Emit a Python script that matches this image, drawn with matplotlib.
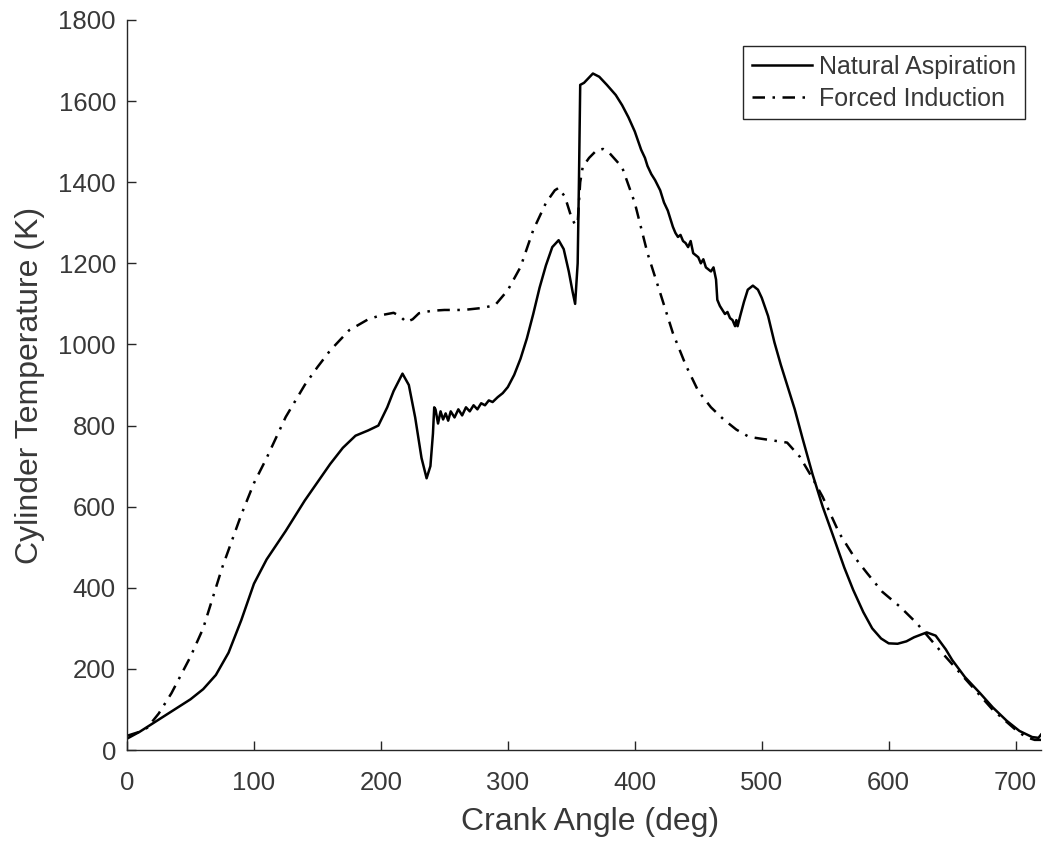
import numpy as np
import matplotlib.pyplot as plt

# crank angle / temperature
na_angle = [0, 10, 20, 30, 40, 50, 60, 70, 80, 90, 100, 110, 125, 140, 150, 160, 170, 180, 190, 198,
            205, 210, 217, 222, 227, 232, 236, 239, 241, 242, 243, 245, 247, 249, 251, 253, 255, 258,
            261, 264, 267, 270, 273, 276, 279, 282, 285, 288, 292, 296, 300, 305, 310, 315, 320, 325,
            330, 335, 340, 344, 348, 351, 353, 355, 356, 357, 360, 363, 367, 372, 378, 385, 390, 395,
            400, 405, 408, 410, 413, 416, 420, 423, 426, 428, 430, 432, 434, 436, 438, 440, 442, 444,
            446, 448, 450, 452, 454, 456, 458, 460, 462, 464, 465, 467, 469, 471, 473, 475, 477, 479,
            480, 481, 483, 486, 489, 493, 497, 500, 505, 510, 515, 520, 526, 532, 540, 548, 556, 565,
            572, 580, 587, 594, 600, 607, 614, 620, 630, 637, 645, 650, 660, 672, 682, 693, 703, 713,
            718, 720]
na_temp = [28, 45, 65, 85, 105, 125, 150, 185, 240, 320, 410, 470, 540, 615, 660, 705, 745, 775, 788, 800,
           845, 885, 928, 900, 820, 720, 670, 700, 780, 845, 840, 805, 835, 815, 830, 812, 835, 820,
           840, 825, 845, 835, 850, 840, 855, 850, 862, 858, 870, 880, 895, 925, 965, 1015, 1075, 1140,
           1195, 1240, 1257, 1235, 1180, 1130, 1100, 1200, 1400, 1640, 1645, 1655, 1668, 1660, 1640, 1615, 1590, 1560,
           1525, 1480, 1460, 1440, 1420, 1405, 1380, 1350, 1330, 1310, 1290, 1275, 1265, 1270, 1255, 1250, 1240, 1255,
           1225, 1220, 1215, 1200, 1210, 1190, 1185, 1180, 1190, 1160, 1110, 1095, 1085, 1075, 1080, 1065, 1060, 1045,
           1060, 1045, 1070, 1105, 1135, 1145, 1135, 1115, 1070, 1005, 950, 900, 840, 770, 680, 600, 530, 450,
           395, 340, 300, 275, 263, 262, 268, 278, 290, 282, 248, 222, 180, 140, 105, 72, 47, 32,
           30, 38]

fi_angle = [0, 10, 16, 25, 35, 50, 60, 75, 90, 100, 110, 125, 140, 150, 160, 175, 190, 200, 210, 215,
            220, 225, 230, 240, 250, 265, 280, 290, 300, 310, 320, 330, 337, 340, 345, 350, 353, 355,
            357, 359, 364, 370, 375, 380, 390, 400, 410, 420, 430, 440, 450, 460, 470, 480, 490, 505,
            520, 530, 540, 548, 561, 572, 583, 595, 609, 622, 640, 661, 682, 700, 708, 715, 720]
fi_temp = [35, 45, 55, 90, 140, 230, 300, 450, 580, 658, 720, 821, 900, 944, 985, 1035, 1062, 1072, 1078, 1070,
           1055, 1062, 1077, 1083, 1085, 1085, 1090, 1097, 1134, 1191, 1282, 1349, 1380, 1386, 1364, 1314, 1295, 1300,
           1400, 1438, 1460, 1479, 1482, 1472, 1437, 1349, 1225, 1127, 1028, 950, 885, 845, 815, 790, 772, 765,
           758, 723, 670, 624, 535, 480, 436, 390, 353, 313, 247, 173, 99, 50, 32, 25, 25]

x_ticks = [0, 100, 200, 300, 400, 500, 600, 700]
y_ticks = [0, 200, 400, 600, 800, 1000, 1200, 1400, 1600, 1800]

plt.rcParams['font.family'] = ['Liberation Sans', 'DejaVu Sans']
txt = '#383838'

fig = plt.figure(figsize=(10.47, 8.43), dpi=100)
ax = fig.add_axes([0.1213, 0.1103, 0.873, 0.866])

ax.plot(na_angle, na_temp, color='black', lw=1.8, label='Natural Aspiration')
ax.plot(fi_angle, fi_temp, color='black', lw=1.8, linestyle=(0, (5, 3, 1, 3)), label='Forced Induction')

ax.set_xlim(0, 720)
ax.set_ylim(0, 1800)
ax.set_xticks(x_ticks)
ax.set_yticks(y_ticks)
ax.tick_params(direction='in', length=6.5, width=1, colors='#262626', labelcolor=txt,
               labelsize=18.5)
ax.tick_params(axis='x', pad=15)
ax.tick_params(axis='y', pad=8)
for s in ['top', 'right']:
    ax.spines[s].set_visible(False)
for s in ['left', 'bottom']:
    ax.spines[s].set_color('#262626')
    ax.spines[s].set_linewidth(1)

ax.set_xlabel('Crank Angle (deg)', fontsize=23, color=txt)
ax.set_ylabel('Cylinder Temperature (K)', fontsize=23, color=txt)
ax.xaxis.set_label_coords(0.507, -0.078)
ax.yaxis.set_label_coords(-0.09, 0.5)

leg = ax.legend(loc='upper right', bbox_to_anchor=(0.9825, 0.964), borderaxespad=0,
                fontsize=18, frameon=True, fancybox=False, framealpha=1, edgecolor='#262626',
                handlelength=2.4, handletextpad=0.3, labelspacing=0.3, borderpad=0.35)
leg.get_frame().set_linewidth(1)
for t in leg.get_texts():
    t.set_color(txt)

fig.savefig('out.png', dpi=100)
